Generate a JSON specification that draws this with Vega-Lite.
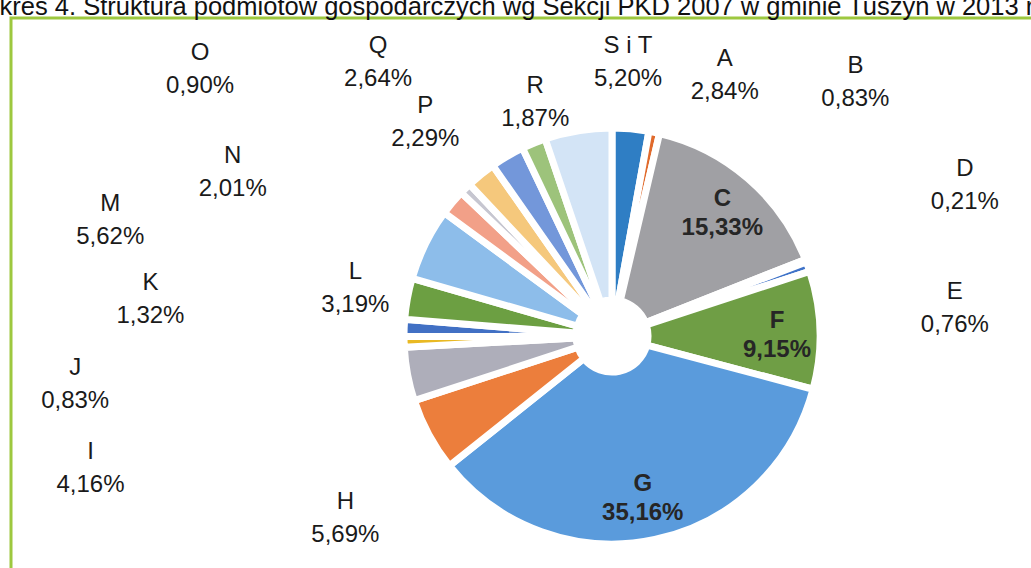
{
  "$schema": "https://vega.github.io/schema/vega-lite/v6.json",
  "autosize": {"type": "none"},
  "padding": {"left": 11, "top": 18, "right": -182, "bottom": -86},
  "width": 1202,
  "height": 636,
  "background": "white",
  "view": {"stroke": "#9DC83F", "strokeWidth": 3},
  "title": {
    "text": "Wykres 4. Struktura podmiotów gospodarczych wg Sekcji PKD 2007 w gminie Tuszyn w 2013 r.",
    "anchor": "start",
    "frame": "group",
    "dx": -48,
    "dy": 27,
    "offset": 5,
    "baseline": "alphabetic",
    "font": "Liberation Sans",
    "fontSize": 25.5,
    "fontWeight": "normal",
    "color": "#111111"
  },
  "config": {
    "view": {"stroke": "#9DC83F", "strokeWidth": 3},
    "text": {"font": "Liberation Sans"}
  },
  "data": {
    "values": [
      {"kat": "A", "udzial": 2.84, "lab": "A\n2,84%"},
      {"kat": "B", "udzial": 0.83, "lab": "B\n0,83%"},
      {"kat": "C", "udzial": 15.33, "lab": "C\n15,33%"},
      {"kat": "D", "udzial": 0.21, "lab": "D\n0,21%"},
      {"kat": "E", "udzial": 0.76, "lab": "E\n0,76%"},
      {"kat": "F", "udzial": 9.15, "lab": "F\n9,15%"},
      {"kat": "G", "udzial": 35.16, "lab": "G\n35,16%"},
      {"kat": "H", "udzial": 5.69, "lab": "H\n5,69%"},
      {"kat": "I", "udzial": 4.16, "lab": "I\n4,16%"},
      {"kat": "J", "udzial": 0.83, "lab": "J\n0,83%"},
      {"kat": "K", "udzial": 1.32, "lab": "K\n1,32%"},
      {"kat": "L", "udzial": 3.19, "lab": "L\n3,19%"},
      {"kat": "M", "udzial": 5.62, "lab": "M\n5,62%"},
      {"kat": "N", "udzial": 2.01, "lab": "N\n2,01%"},
      {"kat": "O", "udzial": 0.90, "lab": "O\n0,90%"},
      {"kat": "P", "udzial": 2.29, "lab": "P\n2,29%"},
      {"kat": "Q", "udzial": 2.64, "lab": "Q\n2,64%"},
      {"kat": "R", "udzial": 1.87, "lab": "R\n1,87%"},
      {"kat": "S i T", "udzial": 5.20, "lab": "S i T\n5,20%"}
    ]
  },
  "encoding": {
    "theta": {"field": "udzial", "type": "quantitative", "stack": true},
    "order": {"field": "kat", "type": "ordinal", "sort": "ascending"}
  },
  "layer": [
    {
      "mark": {"type": "arc", "outerRadius": 208, "innerRadius": 36, "stroke": "white", "strokeWidth": 7},
      "encoding": {
        "color": {
          "field": "kat", "type": "nominal", "legend": null,
          "scale": {
            "domain": ["A","B","C","D","E","F","G","H","I","J","K","L","M","N","O","P","Q","R","S i T"],
            "range": ["#2F7EC4","#E06A2C","#A0A0A4","#F0C020","#3E72C8","#6F9E45","#5A9BDC","#EC7E3C","#AEAEBA","#E9B923","#4170C4","#6C9F42","#8DBDEA","#F2A088","#C6C6D0","#F5C87C","#7397DA","#9DC37B","#D3E4F6"]
          }
        }
      }
    },
    {
      "mark": {"type": "text", "clip": true, "radius": 165, "thetaOffset": 0.02, "dy": -14, "fontSize": 24, "fontWeight": "bold", "lineBreak": "\n", "lineHeight": 29, "fill": "#262626", "align": "center", "baseline": "middle"},
      "encoding": {"detail": {"field": "kat"}, "text": {"condition": {"test": "indexof(['C','F','G'], datum.kat) >= 0", "field": "lab"}, "value": ""}}
    },
    {
      "mark": {"type": "text", "clip": true, "radius": 284, "thetaOffset": 0.319, "dy": -16, "fontSize": 24, "lineBreak": "\n", "lineHeight": 33, "fill": "#1a1a1a", "align": "center", "baseline": "middle"},
      "encoding": {"detail": {"field": "kat"}, "text": {"condition": {"test": "datum.kat === 'A'", "field": "lab"}, "value": ""}}
    },
    {
      "mark": {"type": "text", "clip": true, "radius": 352, "thetaOffset": 0.559, "dy": -16, "fontSize": 24, "lineBreak": "\n", "lineHeight": 33, "fill": "#1a1a1a", "align": "center", "baseline": "middle"},
      "encoding": {"detail": {"field": "kat"}, "text": {"condition": {"test": "datum.kat === 'B'", "field": "lab"}, "value": ""}}
    },
    {
      "mark": {"type": "text", "clip": true, "radius": 384, "thetaOffset": -0.035, "dy": -16, "fontSize": 24, "lineBreak": "\n", "lineHeight": 33, "fill": "#1a1a1a", "align": "center", "baseline": "middle"},
      "encoding": {"detail": {"field": "kat"}, "text": {"condition": {"test": "datum.kat === 'D'", "field": "lab"}, "value": ""}}
    },
    {
      "mark": {"type": "text", "clip": true, "radius": 344, "thetaOffset": 0.258, "dy": -16, "fontSize": 24, "lineBreak": "\n", "lineHeight": 33, "fill": "#1a1a1a", "align": "center", "baseline": "middle"},
      "encoding": {"detail": {"field": "kat"}, "text": {"condition": {"test": "datum.kat === 'E'", "field": "lab"}, "value": ""}}
    },
    {
      "mark": {"type": "text", "clip": true, "radius": 323, "thetaOffset": -0.105, "dy": -16, "fontSize": 24, "lineBreak": "\n", "lineHeight": 33, "fill": "#1a1a1a", "align": "center", "baseline": "middle"},
      "encoding": {"detail": {"field": "kat"}, "text": {"condition": {"test": "datum.kat === 'H'", "field": "lab"}, "value": ""}}
    },
    {
      "mark": {"type": "text", "clip": true, "radius": 538, "thetaOffset": -0.063, "dy": -16, "fontSize": 24, "lineBreak": "\n", "lineHeight": 33, "fill": "#1a1a1a", "align": "center", "baseline": "middle"},
      "encoding": {"detail": {"field": "kat"}, "text": {"condition": {"test": "datum.kat === 'I'", "field": "lab"}, "value": ""}}
    },
    {
      "mark": {"type": "text", "clip": true, "radius": 539, "thetaOffset": -0.061, "dy": -16, "fontSize": 24, "lineBreak": "\n", "lineHeight": 33, "fill": "#1a1a1a", "align": "center", "baseline": "middle"},
      "encoding": {"detail": {"field": "kat"}, "text": {"condition": {"test": "datum.kat === 'J'", "field": "lab"}, "value": ""}}
    },
    {
      "mark": {"type": "text", "clip": true, "radius": 463, "thetaOffset": 0.04, "dy": -16, "fontSize": 24, "lineBreak": "\n", "lineHeight": 33, "fill": "#1a1a1a", "align": "center", "baseline": "middle"},
      "encoding": {"detail": {"field": "kat"}, "text": {"condition": {"test": "datum.kat === 'K'", "field": "lab"}, "value": ""}}
    },
    {
      "mark": {"type": "text", "clip": true, "radius": 261, "thetaOffset": 0.003, "dy": -16, "fontSize": 24, "lineBreak": "\n", "lineHeight": 33, "fill": "#1a1a1a", "align": "center", "baseline": "middle"},
      "encoding": {"detail": {"field": "kat"}, "text": {"condition": {"test": "datum.kat === 'L'", "field": "lab"}, "value": ""}}
    },
    {
      "mark": {"type": "text", "clip": true, "radius": 515, "thetaOffset": -0.23, "dy": -16, "fontSize": 24, "lineBreak": "\n", "lineHeight": 33, "fill": "#1a1a1a", "align": "center", "baseline": "middle"},
      "encoding": {"detail": {"field": "kat"}, "text": {"condition": {"test": "datum.kat === 'M'", "field": "lab"}, "value": ""}}
    },
    {
      "mark": {"type": "text", "clip": true, "radius": 413, "thetaOffset": -0.29, "dy": -16, "fontSize": 24, "lineBreak": "\n", "lineHeight": 33, "fill": "#1a1a1a", "align": "center", "baseline": "middle"},
      "encoding": {"detail": {"field": "kat"}, "text": {"condition": {"test": "datum.kat === 'N'", "field": "lab"}, "value": ""}}
    },
    {
      "mark": {"type": "text", "clip": true, "radius": 491, "thetaOffset": -0.213, "dy": -16, "fontSize": 24, "lineBreak": "\n", "lineHeight": 33, "fill": "#1a1a1a", "align": "center", "baseline": "middle"},
      "encoding": {"detail": {"field": "kat"}, "text": {"condition": {"test": "datum.kat === 'O'", "field": "lab"}, "value": ""}}
    },
    {
      "mark": {"type": "text", "clip": true, "radius": 284, "thetaOffset": -0.035, "dy": -16, "fontSize": 24, "lineBreak": "\n", "lineHeight": 33, "fill": "#1a1a1a", "align": "center", "baseline": "middle"},
      "encoding": {"detail": {"field": "kat"}, "text": {"condition": {"test": "datum.kat === 'P'", "field": "lab"}, "value": ""}}
    },
    {
      "mark": {"type": "text", "clip": true, "radius": 360, "thetaOffset": -0.18, "dy": -16, "fontSize": 24, "lineBreak": "\n", "lineHeight": 33, "fill": "#1a1a1a", "align": "center", "baseline": "middle"},
      "encoding": {"detail": {"field": "kat"}, "text": {"condition": {"test": "datum.kat === 'Q'", "field": "lab"}, "value": ""}}
    },
    {
      "mark": {"type": "text", "clip": true, "radius": 246, "thetaOffset": 0.068, "dy": -16, "fontSize": 24, "lineBreak": "\n", "lineHeight": 33, "fill": "#1a1a1a", "align": "center", "baseline": "middle"},
      "encoding": {"detail": {"field": "kat"}, "text": {"condition": {"test": "datum.kat === 'R'", "field": "lab"}, "value": ""}}
    },
    {
      "mark": {"type": "text", "clip": true, "radius": 274, "thetaOffset": 0.222, "dy": -16, "fontSize": 24, "lineBreak": "\n", "lineHeight": 33, "fill": "#1a1a1a", "align": "center", "baseline": "middle"},
      "encoding": {"detail": {"field": "kat"}, "text": {"condition": {"test": "datum.kat === 'S i T'", "field": "lab"}, "value": ""}}
    }
  ]
}
